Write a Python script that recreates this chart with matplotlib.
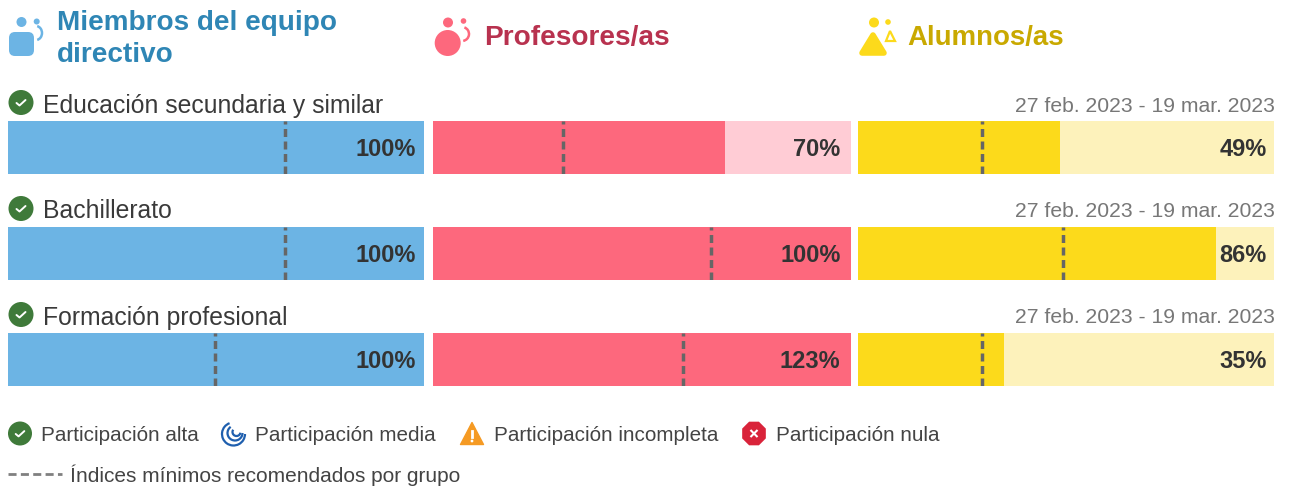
import numpy as np
import matplotlib
matplotlib.use('Agg')
import matplotlib.pyplot as plt
from matplotlib.patches import Circle, Arc, FancyBboxPatch, Polygon, RegularPolygon

plt.rcParams['font.family'] = ['Liberation Sans', 'DejaVu Sans']

# Data
groups = ['Miembros del equipo\ndirectivo', 'Profesores/as', 'Alumnos/as']
stages = ['Educación secundaria y similar', 'Bachillerato', 'Formación profesional']
period = '27 feb. 2023 - 19 mar. 2023'
participation = [[100, 100, 100], [69.8, 100, 123], [48.6, 86, 35]]
minimum = [[66.6, 66.6, 49.7], [31.1, 66.5, 59.8], [29.8, 49.3, 29.8]]
legend_items = ['Participación alta', 'Participación media', 'Participación incompleta', 'Participación nula']
legend_dash = 'Índices mínimos recomendados por grupo'

dark = ['#6cb4e4', '#fd687d', '#fcda1b']
light = ['#6cb4e4', '#ffccd5', '#fdf2bb']
head = ['#2f86b5', '#b8324f', '#c9a900']
green = '#3f7a3a'
W, H = 1292, 488
col_x = [(8, 424), (433, 851), (858, 1274)]
col_pad = [5.9, 7.6, 5.3]
row_y = [(121, 174), (227, 279.5), (333, 385.5)]
label_y = [106, 211.5, 317.5]

fig = plt.figure(figsize=(W / 100, H / 100), dpi=100, facecolor='white')

# overlay in pixel coordinates, for text and icons
bg = fig.add_axes([0, 0, 1, 1])
bg.set_xlim(0, W)
bg.set_ylim(H, 0)
bg.axis('off')


def check(x, y, r):
    bg.add_patch(Circle((x, y), r, color=green, lw=0))
    k = r / 12.5
    bg.plot([x - 4.5 * k, x - 1.5 * k, x + 4.5 * k], [y + 0.5 * k, y + 3 * k, y - 2.5 * k],
            color='white', lw=1.4, solid_capstyle='round')


def spiral(x, y):
    c = '#1f5fae'
    for dx, dy, d, a1, a2 in [(0, 0, 23, 0, 250), (1.5, -1, 15, 0, 235), (3, -2, 8, 10, 215)]:
        bg.add_patch(Arc((x + dx, y + dy), d, d, theta1=a1, theta2=a2, color=c, lw=1.6))


def warning(x, y):
    bg.add_patch(Polygon([[x, y - 11.5], [x + 11.5, y + 10.5], [x - 11.5, y + 10.5]], closed=True,
                         color='#f59a23', lw=1, joinstyle='round'))
    bg.plot([x, x], [y - 3.5, y + 3], color='white', lw=2)
    bg.add_patch(Circle((x, y + 7), 1.4, color='white', lw=0))


def stop(x, y):
    bg.add_patch(RegularPolygon((x, y), 8, radius=12.8, orientation=np.pi / 8, color='#d9233a', lw=0))
    bg.plot([x - 2.8, x + 2.8], [y - 2.8, y + 2.8], color='white', lw=1.5)
    bg.plot([x - 2.8, x + 2.8], [y + 2.8, y - 2.8], color='white', lw=1.5)


# header icons
bg.add_patch(Circle((21.5, 22), 5, color=dark[0], lw=0))
bg.add_patch(Circle((36.7, 21.5), 3, color=dark[0], lw=0))
bg.add_patch(Arc((36, 33), 12, 14, theta1=-80, theta2=80, color=dark[0], lw=1.8))
bg.add_patch(FancyBboxPatch((14, 37), 15, 14, boxstyle='round,pad=5,rounding_size=6', color=dark[0], lw=0))

bg.add_patch(Circle((447.7, 43), 13, color=dark[1], lw=0))
bg.add_patch(Circle((448, 22.5), 5, color=dark[1], lw=0))
bg.add_patch(Circle((463.5, 21), 2.8, color=dark[1], lw=0))
bg.add_patch(Arc((462, 34), 14, 14, theta1=-70, theta2=80, color=dark[1], lw=1.8))

bg.add_patch(Circle((874, 22.5), 5, color=dark[2], lw=0))
bg.add_patch(Circle((888, 22), 2.8, color=dark[2], lw=0))
bg.add_patch(Polygon([[873, 35], [884, 53], [862, 53]], closed=True, color=dark[2], lw=4, joinstyle='round'))
bg.add_patch(Polygon([[890, 31], [895, 41], [886, 41]], closed=True, fill=False, ec=dark[2], lw=1.6))

# header text
bg.text(57, 38.5, groups[0], color=head[0], fontsize=20.1, fontweight='bold', va='center', linespacing=1.3)
bg.text(484, 38.5, groups[1], color=head[1], fontsize=20.2, fontweight='bold', va='center')
bg.text(907, 38.5, groups[2], color=head[2], fontsize=19.9, fontweight='bold', va='center')

# stage rows
for r, stage in enumerate(stages):
    check(21, row_y[r][0] - 18.5, 12.5)
    bg.text(43, label_y[r], stage, color='#3a3a3a', fontsize=17.8, va='center')
    bg.text(1274.5, label_y[r], period, color='#777777', fontsize=15.2, va='center', ha='right')

    for c in range(3):
        x0, x1 = col_x[c]
        y0, y1 = row_y[r]
        ax = fig.add_axes([x0 / W, 1 - y1 / H, (x1 - x0) / W, (y1 - y0) / H])
        ax.set_xlim(0, 100)
        ax.set_ylim(0, 1)
        ax.axis('off')
        val = participation[c][r]
        ax.barh(0.5, 100, height=1, color=light[c], lw=0)
        ax.barh(0.5, min(val, 100), height=1, color=dark[c], lw=0)
        ax.plot([minimum[c][r]] * 2, [0, 1], color='#666666', lw=2.5, dashes=(2.3, 1.3))
        ax.annotate(f'{round(val)}%', xy=(100, 0.5), xytext=(-col_pad[c], -1.4), textcoords='offset points',
                    ha='right', va='center', fontsize=17, fontweight='bold', color='#333333')

# legend
leg_txt = '#444444'
check(20, 433.5, 12)
spiral(233.5, 434)
warning(472, 434)
stop(754, 433.5)
for x, item in zip([41, 255, 493.5, 776], legend_items):
    bg.text(x, 435.5, item, color=leg_txt, fontsize=14.9, va='center')
bg.plot([8, 62], [474, 474], color='#808080', lw=2, dashes=(2.9, 1.55))
bg.text(70, 475.5, legend_dash, color=leg_txt, fontsize=15, va='center')

fig.savefig('out.png', dpi=100)
